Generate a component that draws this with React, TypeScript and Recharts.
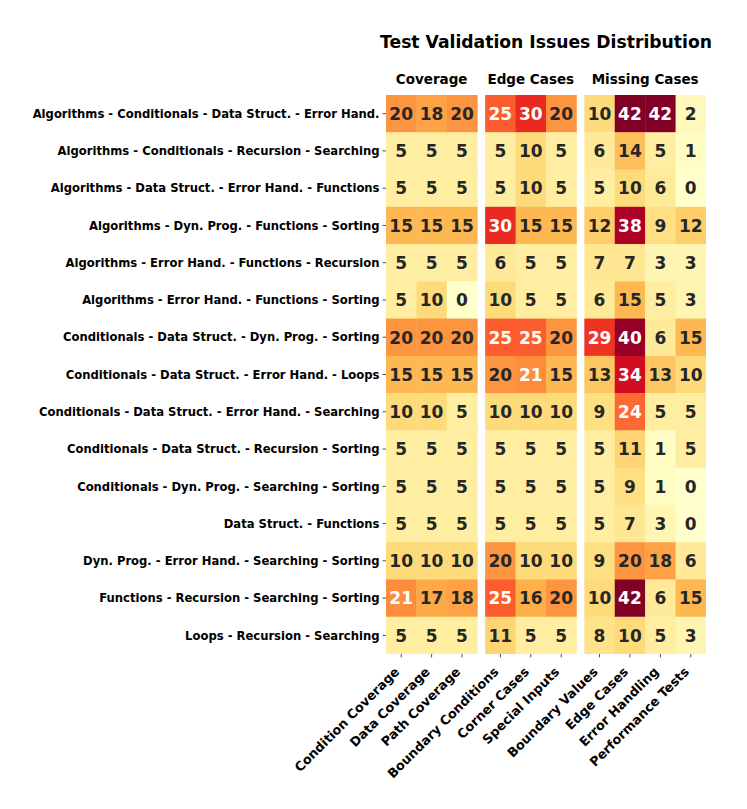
import React from "react";
import { ScatterChart, Scatter, XAxis, YAxis } from "recharts";

const rowLabels = [
  "Algorithms - Conditionals - Data Struct. - Error Hand.",
  "Algorithms - Conditionals - Recursion - Searching",
  "Algorithms - Data Struct. - Error Hand. - Functions",
  "Algorithms - Dyn. Prog. - Functions - Sorting",
  "Algorithms - Error Hand. - Functions - Recursion",
  "Algorithms - Error Hand. - Functions - Sorting",
  "Conditionals - Data Struct. - Dyn. Prog. - Sorting",
  "Conditionals - Data Struct. - Error Hand. - Loops",
  "Conditionals - Data Struct. - Error Hand. - Searching",
  "Conditionals - Data Struct. - Recursion - Sorting",
  "Conditionals - Dyn. Prog. - Searching - Sorting",
  "Data Struct. - Functions",
  "Dyn. Prog. - Error Hand. - Searching - Sorting",
  "Functions - Recursion - Searching - Sorting",
  "Loops - Recursion - Searching",
];

const groupNames = ["Coverage", "Edge Cases", "Missing Cases"];
const coverageCols = ["Condition Coverage", "Data Coverage", "Path Coverage"];
const edgeCols = ["Boundary Conditions", "Corner Cases", "Special Inputs"];
const missingCols = ["Boundary Values", "Edge Cases", "Error Handling", "Performance Tests"];

const coverageValues = [
  [20, 18, 20],
  [5, 5, 5],
  [5, 5, 5],
  [15, 15, 15],
  [5, 5, 5],
  [5, 10, 0],
  [20, 20, 20],
  [15, 15, 15],
  [10, 10, 5],
  [5, 5, 5],
  [5, 5, 5],
  [5, 5, 5],
  [10, 10, 10],
  [21, 17, 18],
  [5, 5, 5],
];
const edgeValues = [
  [25, 30, 20],
  [5, 10, 5],
  [5, 10, 5],
  [30, 15, 15],
  [6, 5, 5],
  [10, 5, 5],
  [25, 25, 20],
  [20, 21, 15],
  [10, 10, 10],
  [5, 5, 5],
  [5, 5, 5],
  [5, 5, 5],
  [20, 10, 10],
  [25, 16, 20],
  [11, 5, 5],
];
const missingValues = [
  [10, 42, 42, 2],
  [6, 14, 5, 1],
  [5, 10, 6, 0],
  [12, 38, 9, 12],
  [7, 7, 3, 3],
  [6, 15, 5, 3],
  [29, 40, 6, 15],
  [13, 34, 13, 10],
  [9, 24, 5, 5],
  [5, 11, 1, 5],
  [5, 9, 1, 0],
  [5, 7, 3, 0],
  [9, 20, 18, 6],
  [10, 42, 6, 15],
  [8, 10, 5, 3],
];

const VMIN = 0;
const VMAX = 42;
const YLORRD = ["#ffffcc", "#ffeda0", "#fed976", "#feb24c", "#fd8d3c", "#fc4e2a", "#e31a1c", "#bd0026", "#800026"];

function hexToRgb(h: string) {
  return [parseInt(h.slice(1, 3), 16), parseInt(h.slice(3, 5), 16), parseInt(h.slice(5, 7), 16)];
}
function colorFor(v: number) {
  let t = (v - VMIN) / (VMAX - VMIN);
  t = Math.max(0, Math.min(1, t));
  const s = t * (YLORRD.length - 1);
  const i = Math.min(Math.floor(s), YLORRD.length - 2);
  const f = s - i;
  const a = hexToRgb(YLORRD[i]);
  const b = hexToRgb(YLORRD[i + 1]);
  const c = a.map((av, k) => Math.round(av + (b[k] - av) * f));
  return `rgb(${c[0]},${c[1]},${c[2]})`;
}

// layout
const W = 739;
const H = 793;
const GAP = 0.26;
const groups = [
  { name: groupNames[0], cols: coverageCols, values: coverageValues },
  { name: groupNames[1], cols: edgeCols, values: edgeValues },
  { name: groupNames[2], cols: missingCols, values: missingValues },
];

const colPositions: number[] = [];
const colNames: string[] = [];
const groupCenters: number[] = [];
const cells: { x: number; y: number; v: number }[] = [];
{
  let pos = 0;
  groups.forEach((g) => {
    const start = pos;
    g.cols.forEach((c, ci) => {
      colPositions.push(pos);
      colNames.push(c);
      g.values.forEach((row, ri) => {
        cells.push({ x: pos, y: ri, v: row[ci] });
      });
      pos += 1;
    });
    groupCenters.push((start + pos - 1) / 2);
    pos += GAP;
  });
}
const X_DOMAIN: [number, number] = [-0.5, colPositions[colPositions.length - 1] + 0.5];
const Y_DOMAIN: [number, number] = [-0.5, rowLabels.length - 0.5];

const MARGIN = { top: 67, right: 41, bottom: 7, left: 0 };
const Y_AXIS_W = 378;
const TOP_AXIS_H = 20;
const BOTTOM_AXIS_H = 140;
const PLOT_W = W - MARGIN.left - MARGIN.right - Y_AXIS_W;
const PLOT_H = H - MARGIN.top - MARGIN.bottom - TOP_AXIS_H - BOTTOM_AXIS_H;
const CELL_W = PLOT_W / (X_DOMAIN[1] - X_DOMAIN[0]);
const CELL_H = PLOT_H / (Y_DOMAIN[1] - Y_DOMAIN[0]);

const FONT = "'DejaVu Sans', sans-serif";

const CellShape = (props: any) => {
  const { cx, cy, payload } = props;
  if (cx == null || cy == null) return null;
  const v = payload.v;
  return (
    <g>
      <rect x={cx - CELL_W / 2} y={cy - CELL_H / 2} width={CELL_W + 0.4} height={CELL_H + 0.4} fill={colorFor(v)} />
      <text
        x={cx}
        y={cy}
        dy={6.3}
        textAnchor="middle"
        fontFamily={FONT}
        fontWeight="bold"
        fontSize={17}
        fill={v >= 21 ? "#ffffff" : "#262626"}
      >
        {v}
      </text>
    </g>
  );
};

const YTick = (props: any) => {
  const { x, y, payload } = props;
  return (
    <text x={x} y={y} dy={4.2} textAnchor="end" fontFamily={FONT} fontWeight="bold" fontSize={11.6} fill="#000">
      {rowLabels[payload.value]}
    </text>
  );
};

const XTick = (props: any) => {
  const { x, y, payload } = props;
  const idx = colPositions.findIndex((p) => Math.abs(p - payload.value) < 1e-6);
  return (
    <g transform={`translate(${x - 1},${y + 15})`}>
      <text x={0} y={0} textAnchor="end" transform="rotate(-45)" fontFamily={FONT} fontWeight="bold" fontSize={12.8} fill="#000">
        {colNames[idx]}
      </text>
    </g>
  );
};

const TopTick = (props: any) => {
  const { x, y, payload } = props;
  const idx = groupCenters.findIndex((p) => Math.abs(p - payload.value) < 1e-6);
  return (
    <text x={x} y={y} dy={-5} textAnchor="middle" fontFamily={FONT} fontWeight="bold" fontSize={13.5} fill="#000">
      {groupNames[idx]}
    </text>
  );
};

export default function App() {
  const plotCenterX = MARGIN.left + Y_AXIS_W + PLOT_W / 2;
  return (
    <div style={{ position: "relative", width: W, height: H }}>
      <div
        style={{
          position: "absolute",
          left: plotCenterX - 250,
          width: 500,
          top: 24,
          textAlign: "center",
          fontFamily: FONT,
          fontWeight: "bold",
          fontSize: 17.2,
          color: "#000",
        }}
      >
        Test Validation Issues Distribution
      </div>
      <ScatterChart width={W} height={H} margin={MARGIN}>
        <XAxis
          xAxisId="bottom"
          type="number"
          dataKey="x"
          domain={X_DOMAIN}
          ticks={colPositions}
          interval={0}
          allowDataOverflow
          axisLine={false}
          tickSize={3.5}
          tickMargin={0}
          tickLine={{ stroke: "#222", strokeWidth: 0.8 }}
          height={BOTTOM_AXIS_H}
          tick={<XTick />}
        />
        <XAxis
          xAxisId="top"
          orientation="top"
          type="number"
          dataKey="x"
          domain={X_DOMAIN}
          ticks={groupCenters}
          interval={0}
          allowDataOverflow
          axisLine={false}
          tickLine={false}
          tickSize={0}
          tickMargin={6}
          height={TOP_AXIS_H}
          tick={<TopTick />}
        />
        <YAxis
          type="number"
          dataKey="y"
          domain={Y_DOMAIN}
          reversed
          ticks={rowLabels.map((_, i) => i)}
          interval={0}
          allowDataOverflow
          axisLine={false}
          tickSize={3.5}
          tickMargin={3}
          tickLine={{ stroke: "#222", strokeWidth: 0.8 }}
          width={Y_AXIS_W}
          tick={<YTick />}
        />
        <Scatter data={cells} xAxisId="bottom" shape={<CellShape />} isAnimationActive={false} />
        <Scatter data={cells} xAxisId="top" shape={() => null} isAnimationActive={false} />
      </ScatterChart>
    </div>
  );
}
